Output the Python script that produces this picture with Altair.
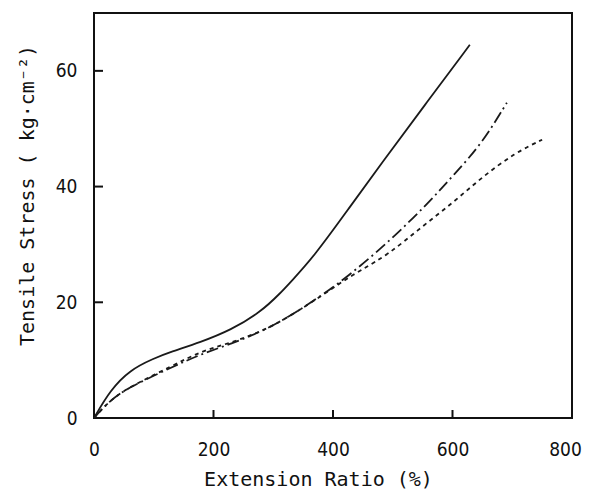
import altair as alt
import pandas as pd

# Data
solid_x = [0, 27, 60, 100, 128, 178, 229, 279, 313, 329, 368, 425, 481, 553, 629]
solid_y = [0, 4.8, 8.3, 10.3, 11.4, 13.1, 15.2, 18.3, 21.7, 23.5, 27.9, 36.0, 44.0, 54.0, 64.5]

dashdot_x = [0, 27, 60, 131, 178, 229, 279, 318, 363, 425, 497, 560, 602, 649, 691]
dashdot_y = [0, 3.1, 5.4, 8.8, 11.0, 12.8, 14.9, 17.0, 19.9, 24.4, 30.8, 37.2, 42.0, 47.4, 54.5]

dotted_x = [0, 27, 60, 131, 178, 229, 279, 318, 363, 410, 447, 492, 548, 603, 649, 704, 750]
dotted_y = [0, 3.1, 5.4, 9.0, 11.5, 13.0, 14.9, 17.0, 19.9, 23.2, 25.6, 28.2, 33.0, 37.4, 41.6, 45.8, 48.1]

x_tick_values = [0, 200, 400, 600, 800]
y_tick_values = [0, 20, 40, 60]
x_inner_ticks = [200, 400, 600]
y_inner_ticks = [20, 40, 60]

W, H = 478, 405
LABEL_FONT = "DejaVu Sans Condensed, Liberation Sans Narrow, DejaVu Sans"
TITLE_FONT = "DejaVu Sans Mono, Liberation Mono"

def series(xs, ys):
    return pd.DataFrame({"x": xs, "y": ys})

xs = alt.Scale(domain=[0, 800], nice=False, zero=False)
ys = alt.Scale(domain=[0, 70], nice=False, zero=False)

x_axis = alt.Axis(values=x_tick_values, domain=False, ticks=False, grid=False,
                  labelFont=LABEL_FONT, labelFontSize=19, labelColor="#111",
                  labelPadding=22, labelFlush=False,
                  labelOffset=alt.expr("datum.value == 800 ? -7 : 0"),
                  title="Extension Ratio (%)", titleFont=TITLE_FONT, titleFontSize=20,
                  titleFontWeight="normal", titleColor="#111",
                  titleX=224, titleY=61, titleAnchor="start", titleAlign="center",
                  titleBaseline="middle")
y_axis = alt.Axis(values=y_tick_values, domain=False, ticks=False, grid=False,
                  labelFont=LABEL_FONT, labelFontSize=19, labelColor="#111",
                  labelPadding=17, labelFlush=False,
                  title="Tensile Stress ( kg\u00b7cm\u207b\u00b2)", titleFont=TITLE_FONT,
                  titleFontSize=20, titleFontWeight="normal", titleColor="#111",
                  titleAngle=270, titleX=-67, titleY=182, titleAlign="center",
                  titleBaseline="middle", titleAnchor="start")

X = alt.X("x:Q", scale=xs, axis=x_axis)
Y = alt.Y("y:Q", scale=ys, axis=y_axis)

def line(df, dash):
    kw = dict(interpolate="basis", color="#1a1a1a", strokeWidth=1.8)
    if dash:
        kw["strokeDash"] = dash
    return alt.Chart(df).mark_line(**kw).encode(x=X, y=Y)

solid = line(series(solid_x, solid_y), None)
dashdot = line(series(dashdot_x, dashdot_y), [12, 4, 2, 4])
dotted = line(series(dotted_x, dotted_y), [4, 4])

xt = alt.Chart(pd.DataFrame({"x": x_inner_ticks})).mark_rule(color="#111", strokeWidth=2).encode(
    x=X, y=alt.value(H), y2=alt.value(H - 8))
yt = alt.Chart(pd.DataFrame({"y": y_inner_ticks})).mark_rule(color="#111", strokeWidth=2).encode(
    y=Y, x=alt.value(0), x2=alt.value(9))

chart = alt.layer(solid, dashdot, dotted, xt, yt).properties(
    width=W, height=H,
    autosize=alt.AutoSizeParams(type="none"),
    padding={"left": 86, "top": 5, "right": 10, "bottom": 75},
    background="white",
).configure_view(stroke="#111", strokeWidth=2)

chart.save("out.html", embed_options={"renderer": "svg", "actions": False})
